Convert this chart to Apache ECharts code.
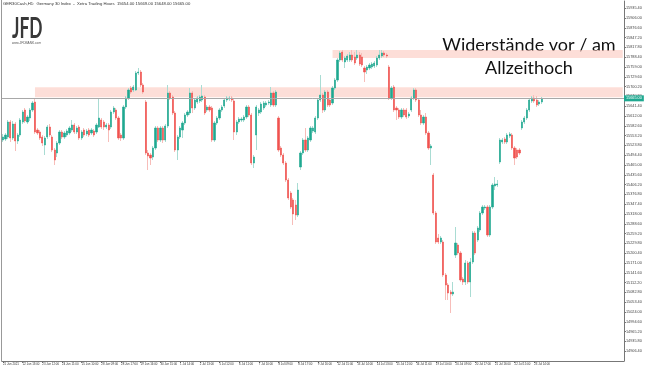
<!DOCTYPE html>
<html><head><meta charset="utf-8">
<script src="https://cdn.jsdelivr.net/npm/echarts@6/dist/echarts.min.js"></script>
<style>html,body{margin:0;padding:0;background:#fff}#c{width:649px;height:380px}</style>
</head><body><div id="c"></div>
<script>
// ---- data (GER30 H1, Xetra hours) ----
const days = ['21 Jun','22 Jun','23 Jun','24 Jun','25 Jun','28 Jun','29 Jun','30 Jun','1 Jul','2 Jul',
  '5 Jul','6 Jul','7 Jul','8 Jul','9 Jul','12 Jul','13 Jul','14 Jul','15 Jul','16 Jul',
  '19 Jul','20 Jul','21 Jul','22 Jul','23 Jul'];
const hours = ['09:00','10:00','11:00','12:00','13:00','14:00','15:00','16:00','17:00'];
const firstBarOffset = 5; // first bar = 21 Jun 14:00
const totalSlots = 253;   // visible bar slots incl. right shift

const opens = [
15540,15543,15549,15594,15546,15588,15537,15555,15594,15630,
15594,15606,15630,15654,15570,15564,15549,15525,15549,15579,
15549,15510,15501,15531,15564,15549,15555,15561,15570,15585,
15564,15579,15546,15570,15558,15570,15561,15567,15564,15579,
15600,15594,15579,15585,15579,15624,15630,15606,15555,15546,
15639,15666,15696,15690,15690,15741,15744,15705,15654,15501,
15495,15489,15516,15576,15540,15576,15540,15582,15681,15669,
15621,15510,15549,15570,15591,15615,15621,15681,15636,15654,
15657,15660,15669,15630,15639,15636,15540,15591,15606,15630,
15642,15660,15663,15666,15657,15564,15594,15600,15600,15609,
15639,15615,15471,15555,15621,15624,15636,15645,15651,15645,
15681,15645,15606,15516,15495,15471,15420,15381,15360,15345,
15315,15459,15501,15540,15510,15540,15567,15564,15606,15660,
15675,15630,15684,15660,15651,15696,15720,15780,15804,15774,
15780,15780,15795,15789,15786,15795,15789,15756,15750,15756,
15759,15762,15765,15786,15792,15801,15795,15759,15666,15699,
15636,15630,15609,15630,15630,15612,15630,15666,15690,15660,
15615,15591,15609,15561,15516,15435,15321,15246,15234,15234,
15135,15105,15084,15078,15195,15225,15201,15123,15114,15171,
15114,15174,15261,15240,15270,15321,15336,15339,15255,15339,
15402,15405,15474,15534,15543,15534,15552,15555,15516,15510,
15510,15576,15594,15606,15630,15657,15666,15660,15648,15654];
const closes = [
15549,15555,15594,15546,15588,15537,15555,15600,15624,15597,
15609,15630,15651,15564,15561,15546,15531,15546,15579,15555,
15510,15480,15531,15564,15549,15561,15567,15576,15585,15564,
15576,15546,15564,15555,15567,15555,15570,15555,15585,15606,
15579,15579,15585,15570,15624,15636,15606,15546,15546,15639,
15666,15690,15684,15699,15741,15744,15705,15684,15501,15492,
15486,15516,15576,15540,15576,15540,15582,15681,15666,15621,
15510,15549,15576,15591,15615,15624,15681,15636,15660,15666,
15669,15672,15621,15639,15630,15540,15591,15606,15630,15639,
15660,15666,15666,15660,15564,15594,15603,15603,15609,15639,
15615,15471,15489,15639,15630,15648,15651,15651,15654,15681,
15645,15684,15510,15495,15471,15420,15366,15339,15318,15315,
15390,15501,15540,15510,15546,15576,15576,15606,15660,15675,
15630,15684,15645,15645,15696,15720,15780,15801,15780,15786,
15792,15795,15780,15771,15795,15768,15765,15744,15759,15765,
15768,15771,15786,15795,15801,15795,15792,15666,15696,15630,
15630,15609,15630,15615,15609,15618,15666,15690,15660,15615,
15591,15609,15561,15516,15522,15321,15234,15234,15246,15135,
15105,15081,15078,15084,15231,15201,15120,15114,15171,15114,
15174,15261,15201,15276,15321,15339,15339,15255,15339,15405,
15408,15408,15540,15540,15534,15555,15558,15516,15486,15489,
15501,15594,15606,15630,15660,15666,15657,15645,15654,15665];
const highs = [
15558,15561,15600,15600,15597,15594,15561,15606,15630,15636,
15615,15636,15657,15663,15576,15570,15555,15552,15585,15588,
15555,15516,15537,15570,15570,15567,15573,15582,15600,15591,
15582,15585,15570,15576,15573,15576,15576,15573,15591,15666,
15606,15600,15591,15591,15630,15642,15636,15612,15561,15645,
15672,15696,15702,15705,15747,15756,15750,15711,15660,15510,
15501,15522,15582,15582,15582,15582,15588,15705,15687,15675,
15627,15555,15582,15597,15621,15630,15696,15687,15666,15672,
15675,15705,15675,15645,15645,15642,15597,15612,15636,15645,
15666,15672,15672,15672,15663,15600,15609,15609,15615,15645,
15645,15621,15495,15645,15636,15654,15657,15657,15660,15699,
15687,15690,15612,15522,15501,15477,15426,15387,15366,15360,
15411,15507,15546,15576,15552,15582,15582,15612,15666,15735,
15681,15690,15690,15666,15702,15726,15786,15807,15810,15792,
15798,15804,15810,15804,15810,15804,15801,15762,15765,15771,
15774,15777,15792,15810,15810,15807,15801,15765,15702,15705,
15642,15636,15636,15636,15636,15624,15672,15696,15696,15666,
15630,15615,15621,15567,15528,15441,15327,15258,15252,15240,
15141,15111,15090,15114,15279,15231,15207,15129,15180,15177,
15186,15267,15267,15282,15327,15345,15345,15345,15345,15411,
15429,15420,15546,15546,15549,15561,15564,15561,15522,15516,
15516,15600,15612,15636,15666,15672,15675,15672,15660,15669];
const lows = [
15534,15537,15543,15534,15540,15507,15528,15549,15588,15591,
15588,15597,15624,15558,15555,15540,15522,15495,15543,15549,
15504,15465,15489,15525,15543,15543,15549,15555,15564,15558,
15558,15540,15540,15549,15552,15549,15555,15549,15558,15576,
15573,15570,15573,15534,15573,15618,15600,15540,15537,15540,
15633,15660,15678,15684,15687,15735,15699,15678,15495,15450,
15465,15480,15510,15534,15534,15531,15534,15576,15660,15615,
15504,15480,15543,15546,15585,15609,15615,15621,15630,15648,
15651,15654,15615,15624,15624,15534,15534,15585,15600,15624,
15636,15654,15657,15654,15540,15555,15588,15594,15594,15603,
15609,15465,15456,15510,15612,15618,15630,15639,15645,15639,
15639,15639,15504,15489,15465,15414,15360,15333,15285,15300,
15309,15450,15495,15504,15504,15534,15561,15558,15600,15654,
15621,15624,15639,15639,15645,15690,15714,15774,15774,15756,
15774,15774,15774,15765,15780,15762,15759,15714,15738,15750,
15753,15756,15759,15780,15786,15789,15786,15660,15660,15624,
15600,15603,15603,15609,15603,15606,15624,15660,15654,15609,
15585,15585,15555,15510,15465,15315,15228,15228,15228,15129,
15060,15060,15021,15072,15186,15195,15114,15105,15105,15108,
15069,15168,15195,15234,15264,15315,15330,15249,15249,15333,
15390,15399,15468,15528,15528,15528,15546,15510,15465,15483,
15495,15570,15588,15600,15624,15651,15651,15639,15642,15648];

const xTickLabels = ['21 Jun 2021','22 Jun 13:00','23 Jun 12:00','24 Jun 11:00','25 Jun 10:00','28 Jun 09:00',
  '28 Jun 17:00','29 Jun 16:00','30 Jun 15:00','1 Jul 14:00','2 Jul 13:00','5 Jul 12:00','6 Jul 11:00',
  '7 Jul 10:00','8 Jul 09:00','8 Jul 17:00','9 Jul 16:00','12 Jul 15:00','13 Jul 14:00','14 Jul 13:00',
  '15 Jul 12:00','16 Jul 11:00','19 Jul 10:00','20 Jul 09:00','20 Jul 17:00','21 Jul 16:00','22 Jul 15:00','23 Jul 14:00'];
const xTickEvery = 8;

const resistUpper = {fromBar: 134, low: 15786, high: 15810};
const resistLower = {fromBar: 13, low: 15668, high: 15698};
const yMin = 14877, yMax = 15957, yStep = 29.4;
const headerText = 'GER30Cash,H1:  Germany 30 Index  -  Xetra Trading Hours  15654.00 15669.00 15648.00 15665.00';

// ---- build ----
const allTimes = [];
days.forEach(d => hours.forEach(h => allTimes.push(d + ' ' + h)));
const categories = allTimes.slice(firstBarOffset, firstBarOffset + opens.length);
while (categories.length < totalSlots) categories.push('');

const fullData = opens.map((o, i) => [o, closes[i], lows[i], highs[i]]);
const bodyData = opens.map((o, i) => [o, closes[i], Math.min(o, closes[i]), Math.max(o, closes[i])]);
const lastClose = closes[closes.length - 1];

const GREEN = '#1fa890', RED = '#f0524f';
const tickShow = (i) => i % xTickEvery === 0 && (i / xTickEvery) < xTickLabels.length;

const chart = echarts.init(document.getElementById('c'), null, {renderer: 'canvas'});
chart.setOption({
  animation: false,
  backgroundColor: '#fff',
  grid: {left: 1, right: 25, top: 1, bottom: 19},
  xAxis: {
    type: 'category', data: categories, boundaryGap: true,
    axisLine: {lineStyle: {color: '#777', width: 1}},
    axisTick: {show: true, interval: tickShow, alignWithLabel: true, length: 2, lineStyle: {color: '#777'}},
    axisLabel: {interval: tickShow, formatter: (v, i) => xTickLabels[i / xTickEvery] || '',
      fontSize: 2.9, color: '#333', align: 'left', margin: 2, fontFamily: 'Liberation Sans'},
    splitLine: {show: false}
  },
  yAxis: {
    type: 'value', position: 'right', min: yMin, max: yMax, interval: yStep, scale: true,
    axisLine: {show: true, lineStyle: {color: '#777', width: 1}},
    axisTick: {show: true, length: 2, lineStyle: {color: '#777'}},
    axisLabel: {formatter: v => v.toFixed(2), fontSize: 3.8, color: '#444', margin: 2,
      showMinLabel: false, showMaxLabel: false, fontFamily: 'Liberation Sans'},
    splitLine: {show: false}
  },
  series: [
    {
      type: 'candlestick', name: 'wicks', data: fullData, barWidth: 1, z: 2,
      itemStyle: {color: '#a9dcd3', color0: '#f7bdb9', borderColor: '#a9dcd3', borderColor0: '#f7bdb9', borderWidth: 1},
      markArea: {
        silent: true,
        itemStyle: {color: 'rgba(251, 200, 190, 0.6)'},
        data: [
          [{xAxis: resistLower.fromBar, yAxis: resistLower.high}, {xAxis: totalSlots - 1, yAxis: resistLower.low}],
          [{xAxis: resistUpper.fromBar, yAxis: resistUpper.high}, {xAxis: totalSlots - 1, yAxis: resistUpper.low}]
        ]
      }
    },
    {
      type: 'candlestick', name: 'bodies', data: bodyData, barWidth: 1.7, z: 3,
      itemStyle: {color: GREEN, color0: RED, borderColor: GREEN, borderColor0: RED, borderWidth: 0.6},
      markLine: {
        silent: true, symbol: 'none',
        lineStyle: {color: '#a8a8a8', width: 1, type: 'solid'},
        label: {show: true, position: 'end', formatter: lastClose.toFixed(2), backgroundColor: GREEN,
          color: '#fff', fontSize: 3.8, padding: [1, 2], distance: 0, fontFamily: 'Liberation Sans'},
        data: [{yAxis: lastClose}]
      }
    }
  ],
  graphic: [
    {type: 'line', shape: {x1: 1.5, y1: 0, x2: 1.5, y2: 361}, style: {stroke: '#999', lineWidth: 1}},
    {type: 'text', left: 3, top: 1.5, style: {text: headerText, fontSize: 4.2, fill: '#333', fontFamily: 'Liberation Sans'}},
    {type: 'text', x: 12, y: 15, scaleX: 0.62, style: {text: 'JFD', fontSize: 28, fontWeight: 'bold', fill: '#383838', fontFamily: 'Lato'}},
    {type: 'text', x: 12, y: 42, style: {text: 'www.JFDBANK.com', fontSize: 3.2, fill: '#555', fontFamily: 'Liberation Sans'}},
    {type: 'text', x: 529, y: 45, style: {text: 'Widerstände vor / am', fontSize: 18, fill: '#111', fontFamily: 'Lato', align: 'center', verticalAlign: 'middle'}},
    {type: 'text', x: 529, y: 68, style: {text: 'Allzeithoch', fontSize: 18, fill: '#111', fontFamily: 'Lato', align: 'center', verticalAlign: 'middle'}}
  ]
});
</script></body></html>
